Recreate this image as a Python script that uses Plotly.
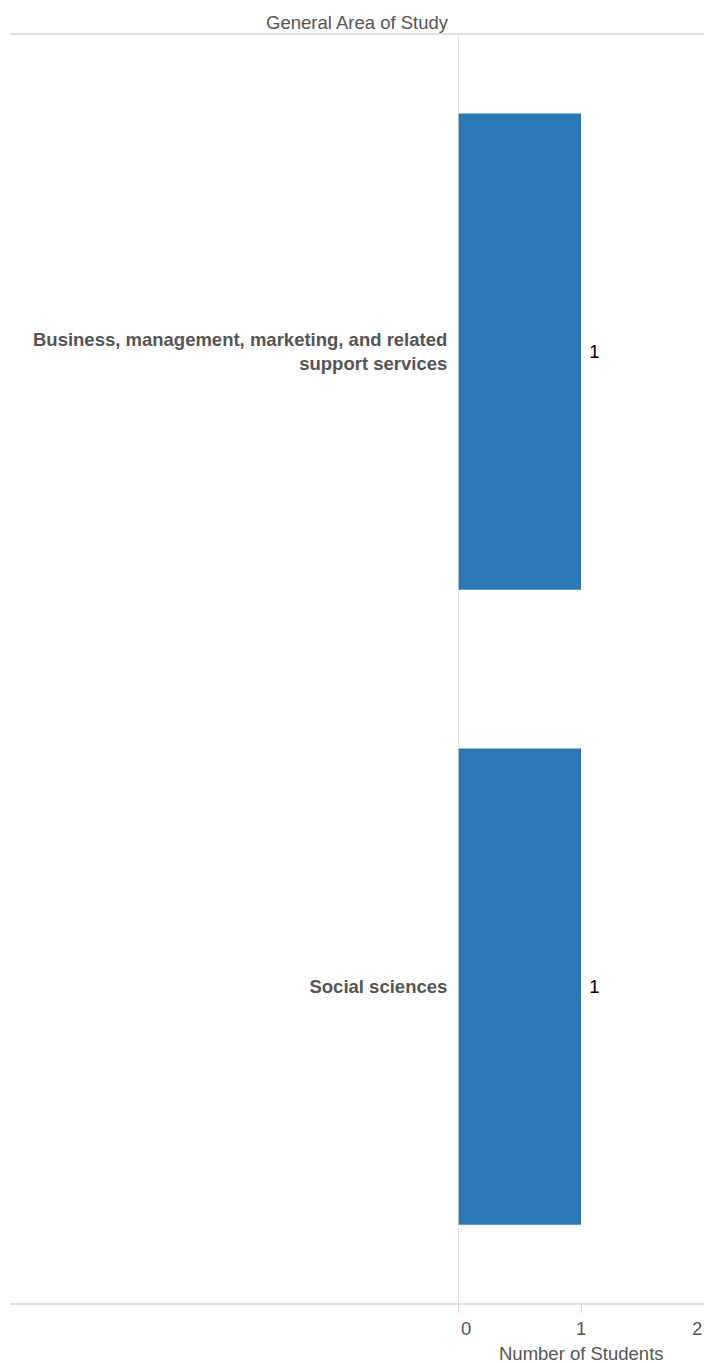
import plotly.graph_objects as go

categories = ["Business, management, marketing, and related<br>support services", "Social sciences"]
values = [1, 1]
tick_values = [0, 1, 2]
tick_labels = ["0", "1", "2"]

W, H = 704, 1363
ML, MR, MT, MB = 458, 0, 34, 59
GRAY = "#555555"
LINE = "#d6d6d6"
FONT = "Arial, Liberation Sans, sans-serif"
FS = 18.5

plot_w = W - ML - MR
xmax = 2

fig = go.Figure(go.Bar(
    x=values,
    y=["<b>" + c + "</b>" for c in categories],
    orientation="h",
    marker=dict(color="#2c78b5", line=dict(width=0)),
    width=0.75,
    text=[" " + str(v) for v in values],
    textposition="outside",
    textfont=dict(color="#000000", size=FS, family=FONT),
    cliponaxis=False,
    hoverinfo="skip",
))

fig.update_layout(
    width=W, height=H,
    margin=dict(l=ML, r=MR, t=MT, b=MB, pad=0),
    plot_bgcolor="white", paper_bgcolor="white",
    showlegend=False,
    font=dict(family=FONT, size=FS, color=GRAY),
    xaxis=dict(range=[0, xmax], showgrid=False, zeroline=False, showline=False,
               tickvals=[0, 1], ticks="outside", ticklen=8, tickcolor=LINE, tickwidth=1,
               showticklabels=False, fixedrange=True),
    yaxis=dict(categoryorder="array", categoryarray=["<b>" + c + "</b>" for c in categories][::-1],
               showgrid=False, zeroline=False, showline=False, ticks="outside", ticklen=6,
               tickcolor="rgba(0,0,0,0)",
               tickfont=dict(size=FS, color=GRAY, family=FONT), fixedrange=True),
)

# frame lines
x_left_paper = (10 - ML) / plot_w
fig.add_shape(type="line", xref="paper", yref="paper", x0=x_left_paper, x1=1, y0=1, y1=1,
              line=dict(color=LINE, width=1.5))
fig.add_shape(type="line", xref="paper", yref="paper", x0=x_left_paper, x1=1, y0=0, y1=0,
              line=dict(color=LINE, width=1.5))
fig.add_shape(type="line", xref="x", yref="paper", x0=0, x1=0, y0=-8 / (H - MT - MB), y1=1,
              line=dict(color=LINE, width=1.5))

# tick labels
shifts = [8, 0, -7]
for v, t, s in zip(tick_values, tick_labels, shifts):
    fig.add_annotation(x=v, y=0, xref="x", yref="paper", text=t, showarrow=False,
                       xanchor="center", yanchor="middle", xshift=s, yshift=-24,
                       font=dict(size=FS, color=GRAY, family=FONT))

fig.add_annotation(x=1, y=0, xref="x", yref="paper", text="Number of Students", showarrow=False,
                   xanchor="center", yanchor="middle", yshift=-49,
                   font=dict(size=FS, color=GRAY, family=FONT))

fig.add_annotation(x=(357 - ML) / plot_w, y=1, xref="paper", yref="paper", text="General Area of Study",
                   showarrow=False, xanchor="center", yanchor="middle", yshift=12,
                   font=dict(size=FS, color=GRAY, family=FONT))

fig.write_html("out.html", config={"displayModeBar": False},
               post_script="document.body.style.margin='0';document.body.style.overflow='hidden';")
